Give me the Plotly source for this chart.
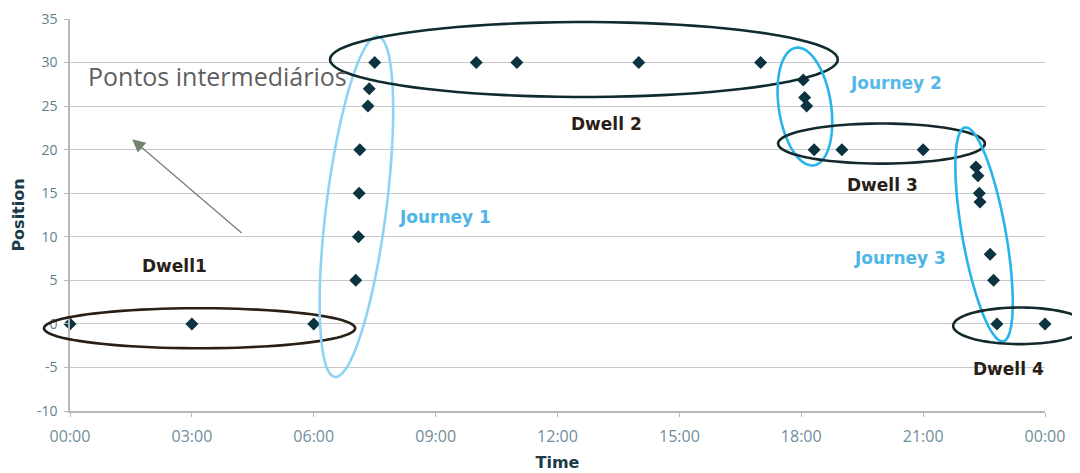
import math
import plotly.graph_objects as go

# ---- data ----
times = ["00:00", "03:00", "06:00",
         "07:02", "07:06", "07:07", "07:08", "07:20", "07:22", "07:30",
         "10:00", "11:00", "14:00", "17:00",
         "18:03", "18:05", "18:08",
         "18:19", "19:00", "21:00",
         "22:18", "22:21", "22:23", "22:24", "22:39", "22:44", "22:49", "24:00"]
positions = [0, 0, 0,
             5, 10, 15, 20, 25, 27, 30,
             30, 30, 30, 30,
             28, 26, 25,
             20, 20, 20,
             18, 17, 15, 14, 8, 5, 0, 0]

x_tick_vals = [0, 3, 6, 9, 12, 15, 18, 21, 24]
x_tick_text = ["00:00", "03:00", "06:00", "09:00", "12:00", "15:00", "18:00", "21:00", "00:00"]
y_tick_vals = [-10, -5, 0, 5, 10, 15, 20, 25, 30, 35]
y_tick_text = ["-10", "-5", "0", "5", "10", "15", "20", "25", "30", "35"]

# segment labels: (text, time in hours, position, colour)
seg_labels = [
    ("Dwell1", 2.56, 6.6, "#2b2017"),
    ("Journey 1", 9.22, 12.3, "#4db6e6"),
    ("Dwell 2", 13.21, 22.9, "#2b2017"),
    ("Journey 2", 20.34, 27.7, "#55b9e8"),
    ("Dwell 3", 20.0, 16.0, "#2b2017"),
    ("Journey 3", 20.43, 7.6, "#4db6e6"),
    ("Dwell 4", 23.11, -5.2, "#2b2017"),
]

# ellipses: major-axis end points (hours, position), minor half-width (position units), colour
ellipses = [
    ((-0.64, -0.5), (7.02, -0.5), 2.3, "#2a1f14"),
    ((6.52, -6.1), (7.58, 33.0), 3.45, "#8fd3f4"),
    ((6.40, 30.35), (18.90, 30.35), 4.3, "#0f2b30"),
    ((17.87, 31.7), (18.31, 18.2), 3.0, "#26b5ea"),
    ((17.43, 20.7), (22.52, 20.7), 2.3, "#14292b"),
    ((22.03, 22.55), (22.97, -2.0), 2.5, "#26b5ea"),
    ((21.74, -0.22), (25.03, -0.22), 2.1, "#14292b"),
]

X_RANGE = [0, 24]
Y_RANGE = [-10, 35]

# the page body adds an 8px offset, so the figure is 8px smaller each way
W, H = 1072, 465
M = dict(l=62, r=35, t=11, b=62)
PW = W - M["l"] - M["r"]
PH = H - M["t"] - M["b"]


def to_hours(s):
    h, m = s.split(":")
    return int(h) + int(m) / 60.0


xs = [to_hours(t) for t in times]


def ellipse_path(p1, p2, b_units):
    # work in plot-area pixel space, then convert to paper coords
    def px(p):
        return ((p[0] - X_RANGE[0]) / (X_RANGE[1] - X_RANGE[0]) * PW,
                (p[1] - Y_RANGE[0]) / (Y_RANGE[1] - Y_RANGE[0]) * PH)
    (x1, y1), (x2, y2) = px(p1), px(p2)
    cx, cy = (x1 + x2) / 2, (y1 + y2) / 2
    a = math.hypot(x2 - x1, y2 - y1) / 2
    b = b_units / (Y_RANGE[1] - Y_RANGE[0]) * PH
    ang = math.atan2(y2 - y1, x2 - x1)
    pts = []
    n = 90
    for i in range(n):
        t = 2 * math.pi * i / n
        ex, ey = a * math.cos(t), b * math.sin(t)
        X = cx + ex * math.cos(ang) - ey * math.sin(ang)
        Y = cy + ex * math.sin(ang) + ey * math.cos(ang)
        pts.append((X / PW, Y / PH))
    return "M " + " L ".join(f"{x:.5f},{y:.5f}" for x, y in pts) + " Z"


fig = go.Figure()
fig.add_trace(go.Scatter(
    x=xs, y=positions, mode="markers",
    marker=dict(symbol="diamond", size=10, color="#0b3340"),
    cliponaxis=False, showlegend=False, hoverinfo="skip"))

shapes = []
for p1, p2, b, col in ellipses:
    shapes.append(dict(type="path", xref="paper", yref="paper",
                       path=ellipse_path(p1, p2, b),
                       line=dict(color=col, width=2.6), layer="above"))

annotations = []
for txt, hx, py, col in seg_labels:
    annotations.append(dict(x=hx, y=py, xref="x", yref="y", text=txt, showarrow=False,
                            font=dict(family="DejaVu Sans", size=17, color=col, weight="bold")))

annotations.append(dict(x=3.63, y=28.4, xref="x", yref="y", text="Pontos intermediários",
                        showarrow=False, font=dict(family="Open Sans", size=25, color="#5f5f5f")))
annotations.append(dict(x=1.53, y=21.2, xref="x", yref="y", text="", showarrow=True,
                        ax=111, ay=95, arrowhead=2, arrowsize=2, arrowwidth=1.3,
                        arrowcolor="#76836f", standoff=0))

fig.update_layout(
    width=W, height=H, margin=M,
    paper_bgcolor="white", plot_bgcolor="white",
    shapes=shapes, annotations=annotations,
    xaxis=dict(range=X_RANGE, tickvals=x_tick_vals, ticktext=x_tick_text, automargin=False,
               showgrid=False, zeroline=False, showline=True, linecolor="#b8b8b8",
               linewidth=1.5, ticks="outside", ticklen=4, tickcolor="#b8b8b8",
               ticklabelstandoff=6,
               tickfont=dict(family="Open Sans", size=16, color="#6f8d9b"),
               title=dict(text="Time", standoff=11,
                          font=dict(family="DejaVu Sans", size=16, color="#1c3b48", weight="bold"))),
    yaxis=dict(range=Y_RANGE, tickvals=y_tick_vals, ticktext=y_tick_text, automargin=False,
               showgrid=True, gridcolor="#c8c8c8", gridwidth=1.2, zeroline=False,
               showline=True, linecolor="#b8b8b8", linewidth=1.5,
               ticks="outside", ticklen=4, tickcolor="#b8b8b8",
               ticklabelstandoff=4,
               tickfont=dict(family="Open Sans", size=14, color="#5d7f8f"),
               title=dict(text="Position", standoff=8,
                          font=dict(family="DejaVu Sans", size=16, color="#1c3b48", weight="bold"))),
)

fig.write_html("out.html")
